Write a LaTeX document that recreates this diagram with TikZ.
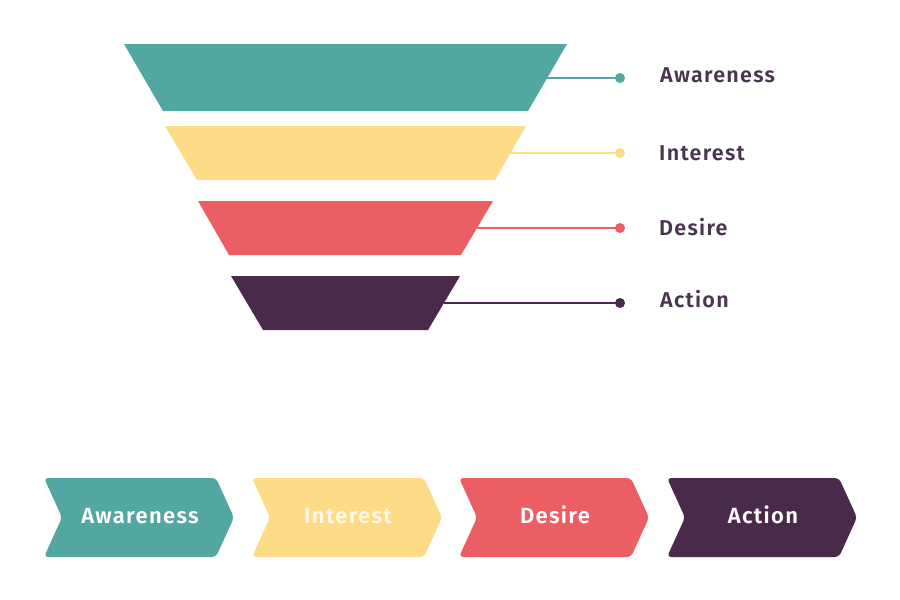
\documentclass[tikz,border=0pt]{standalone}
\usepackage{fontspec}
\setmainfont{Fira Sans}
\newfontfamily\semib{Fira Sans SemiBold}[LetterSpace=6]
\definecolor{cteal}{HTML}{52A7A1}
\definecolor{cyellow}{HTML}{FDDB87}
\definecolor{cred}{HTML}{EB5E63}
\definecolor{cplum}{HTML}{4A2A4A}
\definecolor{ctext}{HTML}{4A3550}
\definecolor{ccream}{HTML}{FFF8E8}
\tikzset{
  lbl/.style={anchor=base west, text=ctext, font=\semib\fontsize{21.5}{24}\selectfont, inner sep=0pt},
  conn/.style={line width=2pt},
  chevtext/.style={anchor=base, font=\semib\fontsize{22}{24}\selectfont, inner sep=0pt},
}
\begin{document}
\begin{tikzpicture}[x=1pt,y=-1pt]
\useasboundingbox (0,0) rectangle (900,600);
\fill[white] (0,0) rectangle (900,600);
% connectors (drawn first, behind bands)
\coordinate (e1) at (547,78);  \coordinate (d1) at (620,78);
\coordinate (e2) at (510,153); \coordinate (d2) at (620,153);
\coordinate (e3) at (477,228); \coordinate (d3) at (620,228);
\coordinate (e4) at (444,303); \coordinate (d4) at (620,303);
\draw[conn,cteal] (e1) -- (d1); \fill[cteal] (d1) circle (5);
\draw[conn,cyellow] (e2) -- (d2); \fill[cyellow] (d2) circle (5);
\draw[conn,cred] (e3) -- (d3); \fill[cred] (d3) circle (5);
\draw[conn,cplum] (e4) -- (d4); \fill[cplum] (d4) circle (5);
% funnel bands
\fill[cteal] (124,44) -- (567,44) -- (528,111) -- (163,111) -- cycle;
\fill[cyellow] (165,126) -- (526,126) -- (495,180) -- (197,180) -- cycle;
\fill[cred] (198,201) -- (493,201) -- (461,255) -- (229,255) -- cycle;
\fill[cplum] (231,276) -- (460,276) -- (428,330) -- (263,330) -- cycle;
% labels
\node[lbl] (l1) at (660,82) {Awareness};
\node[lbl] (l2) at (659,160) {Interest};
\node[lbl] (l3) at (659,235) {Desire};
\node[lbl] (l4) at (660,307) {Action};
% chevrons
\foreach \L/\c/\t/\tc [count=\i] in {44/cteal/Awareness/white, 252/cyellow/Interest/ccream, 459/cred/Desire/white, 667/cplum/Action/white}{
  \fill[\c, rounded corners=4pt] (\L,478) -- (\L+172,478) -- (\L+190,517.5) -- (\L+172,557) -- (\L,557) -- (\L+18,517.5) -- cycle;
  \node[chevtext, text=\tc] (c\i) at (\L+96,523.5) {\t};
}
\end{tikzpicture}
\end{document}
